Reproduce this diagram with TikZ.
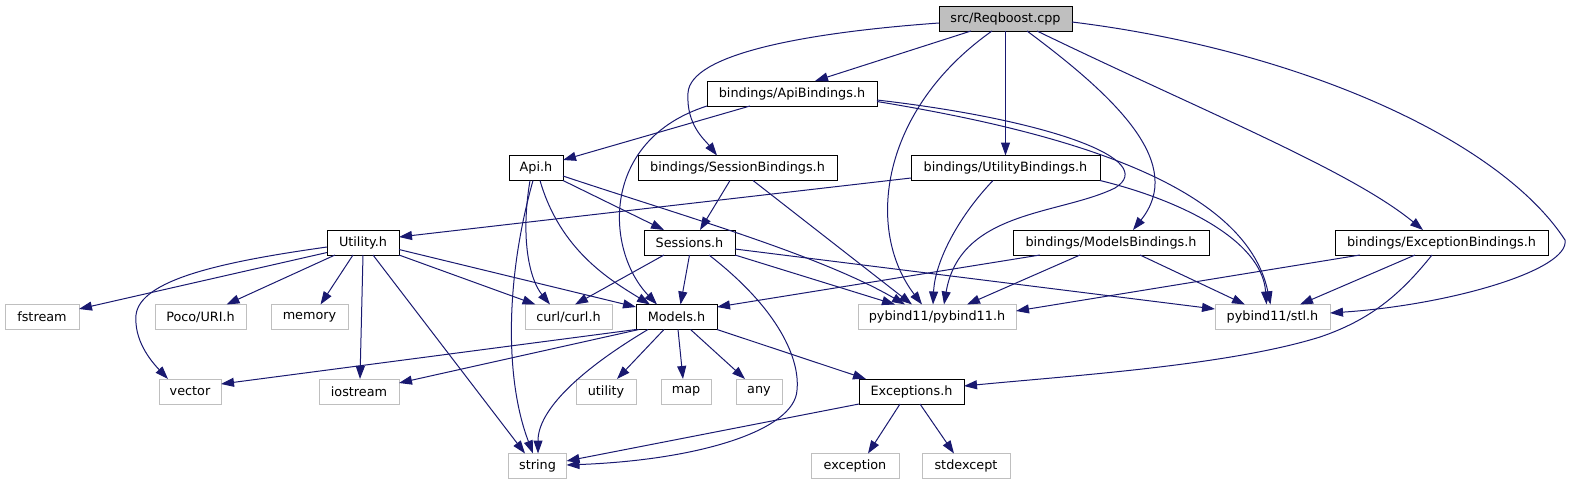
\documentclass[tikz,border=0pt]{standalone}
\usepackage{fontspec}
\setmainfont{DejaVu Sans}
\usetikzlibrary{arrows.meta,calc}
\definecolor{edgeblue}{HTML}{191970}
\definecolor{extgrey}{HTML}{BFBFBF}
\begin{document}
\begin{tikzpicture}[x=1pt,y=-1pt,
  box/.style={rectangle,draw=black,line width=1pt,minimum height=25pt,inner sep=0pt,outer sep=0pt,font=\fontsize{12.8}{15}\selectfont},
  doc/.style={box},
  ext/.style={box,draw=extgrey},
  root/.style={box,fill=extgrey},
  dep/.style={draw=edgeblue,line width=1pt,-{Triangle[length=13pt,width=9pt]}}]
\useasboundingbox (0,0) rectangle (1571,485);
% nodes
\node[root,minimum width=133pt] (rq) at (1005.5,18.5) {src/Reqboost.cpp};
\node[doc,minimum width=170pt] (apib) at (792,93.5) {bindings/ApiBindings.h};
\node[doc,minimum width=54pt] (api) at (536,168) {Api.h};
\node[doc,minimum width=199pt] (sesb) at (737.5,168) {bindings/SessionBindings.h};
\node[doc,minimum width=189pt] (utib) at (1005.5,168) {bindings/UtilityBindings.h};
\node[doc,minimum width=72pt] (util) at (363,242.5) {Utility.h};
\node[doc,minimum width=91pt] (sess) at (689.5,242.5) {Sessions.h};
\node[doc,minimum width=196pt] (modb) at (1111,242.5) {bindings/ModelsBindings.h};
\node[doc,minimum width=213pt] (excb) at (1441.5,242.5) {bindings/ExceptionBindings.h};
\node[ext,minimum width=74pt] (fst) at (42,317) {fstream};
\node[ext,minimum width=91pt] (poco) at (200.5,317) {Poco/URI.h};
\node[ext,minimum width=77pt] (mem) at (309.5,317) {memory};
\node[ext,minimum width=87pt] (curl) at (568.5,317) {curl/curl.h};
\node[doc,minimum width=81pt] (mod) at (676.5,317) {Models.h};
\node[ext,minimum width=158pt] (pyb) at (937,317) {pybind11/pybind11.h};
\node[ext,minimum width=115pt] (stl) at (1272.5,317) {pybind11/stl.h};
\node[ext,minimum width=62pt] (vec) at (190,391.5) {vector};
\node[ext,minimum width=80pt] (ios) at (359,391.5) {iostream};
\node[ext,minimum width=60pt] (uty) at (606,391.5) {utility};
\node[ext,minimum width=50pt] (map) at (686,391.5) {map};
\node[ext,minimum width=46pt] (any) at (759,391.5) {any};
\node[doc,minimum width=105pt] (exh) at (911.5,391.5) {Exceptions.h};
\node[ext,minimum width=58pt] (str) at (537.5,466) {string};
\node[ext,minimum width=88pt] (exc) at (855,466) {exception};
\node[ext,minimum width=88pt] (sexc) at (966,466) {stdexcept};
% edges from src/Reqboost.cpp
\draw[dep] ($(rq.south)+(-34.5,0)$) -- ($(apib.north)+(23,0)$);
\draw[dep] ($(rq.west)+(0,4.5)$) .. controls (800,33) and (690,55) .. (688,93) .. controls (686,125) and (705,140) .. ($(sesb.north)+(-20.5,0)$);
\draw[dep] ($(rq.south)+(-13.5,0)$) .. controls (880,110) and (865,230) .. ($(pyb.north)+(-15,0)$);
\draw[dep] (rq.south) -- (utib.north);
\draw[dep] ($(rq.south)+(21.5,0)$) .. controls (1120,100) and (1185,165) .. ($(modb.north)+(22,0)$);
\draw[dep] ($(rq.south)+(31.5,0)$) .. controls (1200,110) and (1350,170) .. ($(excb.north)+(-18.5,0)$);
\draw[dep] ($(rq.east)+(0,3.5)$) .. controls (1300,50) and (1500,140) .. (1565,240) .. controls (1570,270) and (1450,305) .. ($(stl.east)+(0,-4)$);
% edges from bindings/ApiBindings.h
\draw[dep] ($(apib.south)+(-42,0)$) -- ($(api.east)+(0,-8)$);
\draw[dep] (apib.south west) .. controls (600,140) and (605,250) .. ($(mod.north)+(-19.5,0)$);
\draw[dep] ($(apib.east)+(0,6.5)$) .. controls (1050,120) and (1160,160) .. (1115,188) .. controls (1060,215) and (960,210) .. ($(pyb.north)+(7,0)$);
\draw[dep] ($(apib.east)+(0,8)$) .. controls (1050,130) and (1245,180) .. ($(stl.north)+(-2,0)$);
% edges from Api.h
\draw[dep] (api.south east) -- ($(sess.north)+(-25.5,0)$);
\draw[dep] ($(api.east)+(0,8)$) .. controls (680,215) and (820,255) .. ($(pyb.north)+(-32,0)$);
\draw[dep] ($(api.south)+(4,0)$) .. controls (560,250) and (610,280) .. ($(mod.north)+(-26.5,0)$);
\draw[dep] ($(api.south)+(-6,0)$) .. controls (520,240) and (530,280) .. ($(curl.north)+(-18.5,0)$);
\draw[dep] ($(api.south)+(-3,0)$) .. controls (505,280) and (505,380) .. ($(str.north)+(-4.5,0)$);
% edges from bindings/SessionBindings.h
\draw[dep] ($(sesb.south)+(-7.5,0)$) -- ($(sess.north)+(10.5,0)$);
\draw[dep] ($(sesb.south)+(15.5,0)$) -- ($(pyb.north)+(-25,0)$);
% edges from bindings/UtilityBindings.h
\draw[dep] ($(utib.west)+(0,10)$) -- ($(util.east)+(0,-5.5)$);
\draw[dep] ($(utib.south)+(-12.5,0)$) .. controls (960,215) and (935,260) .. ($(pyb.north)+(-4,0)$);
\draw[dep] (utib.south east) .. controls (1180,200) and (1262,240) .. ($(stl.north)+(-6,0)$);
% edges from Sessions.h
\draw[dep] ($(sess.south)+(-25.5,0)$) -- ($(curl.north)+(6.5,0)$);
\draw[dep] (sess.south) -- ($(mod.north)+(4,0)$);
\draw[dep] (sess.south east) -- ($(pyb.north)+(-42,0)$);
\draw[dep] ($(sess.east)+(0,6.5)$) -- ($(stl.west)+(0,-8)$);
\draw[dep] ($(sess.south)+(19.5,0)$) .. controls (780,310) and (800,360) .. (797,390) .. controls (795,430) and (700,460) .. ($(str.east)+(0,-1)$);
% edges from bindings/ModelsBindings.h
\draw[dep] ($(modb.south)+(-71,0)$) -- ($(mod.east)+(0,-10)$);
\draw[dep] ($(modb.south)+(-31,0)$) -- ($(pyb.north)+(30,0)$);
\draw[dep] ($(modb.south)+(29,0)$) -- ($(stl.north)+(-27.5,0)$);
% edges from bindings/ExceptionBindings.h
\draw[dep] ($(excb.south)+(-81.5,0)$) -- ($(pyb.east)+(0,-6)$);
\draw[dep] ($(excb.south)+(-26.5,0)$) -- ($(stl.north)+(27.5,0)$);
\draw[dep] ($(excb.south)+(-9.5,0)$) .. controls (1400,295) and (1370,320) .. (1320,337) .. controls (1230,365) and (1080,375) .. ($(exh.east)+(0,-5.5)$);
% edges from Utility.h
\draw[dep] ($(util.west)+(0,10)$) -- ($(fst.east)+(0,-8)$);
\draw[dep] ($(util.west)+(0,4.5)$) .. controls (220,262) and (140,280) .. (136,315) .. controls (134,340) and (150,360) .. ($(vec.north)+(-22,0)$);
\draw[dep] ($(util.south)+(-28,0)$) -- ($(poco.north)+(26,0)$);
\draw[dep] ($(util.south)+(-10,0)$) -- ($(mem.north)+(11,0)$);
\draw[dep] (util.south) -- ($(ios.north)+(1,0)$);
\draw[dep] ($(util.south)+(10,0)$) -- ($(str.north)+(-12.5,0)$);
\draw[dep] (util.south east) -- ($(curl.north)+(-33,0)$);
\draw[dep] ($(util.east)+(0,7)$) -- ($(mod.west)+(0,-10)$);
% edges from Models.h
\draw[dep] (mod.south west) -- ($(vec.east)+(0,-7.5)$);
\draw[dep] ($(mod.south west)+(3,0)$) -- ($(ios.east)+(0,-8.5)$);
\draw[dep] ($(mod.south)+(-28.5,0)$) .. controls (580,370) and (538,410) .. ($(str.north)+(0.5,0)$);
\draw[dep] ($(mod.south)+(-12.5,0)$) -- ($(uty.north)+(11,0)$);
\draw[dep] ($(mod.south)+(1.5,0)$) -- ($(map.north)+(-3,0)$);
\draw[dep] ($(mod.south)+(14,0)$) -- ($(any.north)+(-14,0)$);
\draw[dep] (mod.south east) -- ($(exh.north)+(-45.5,0)$);
% edges from Exceptions.h
\draw[dep] (exh.south west) -- ($(str.east)+(0,-5)$);
\draw[dep] ($(exh.south)+(-11.5,0)$) -- ($(exc.north)+(13,0)$);
\draw[dep] ($(exh.south)+(8.5,0)$) -- ($(sexc.north)+(-12,0)$);
\end{tikzpicture}
\end{document}
